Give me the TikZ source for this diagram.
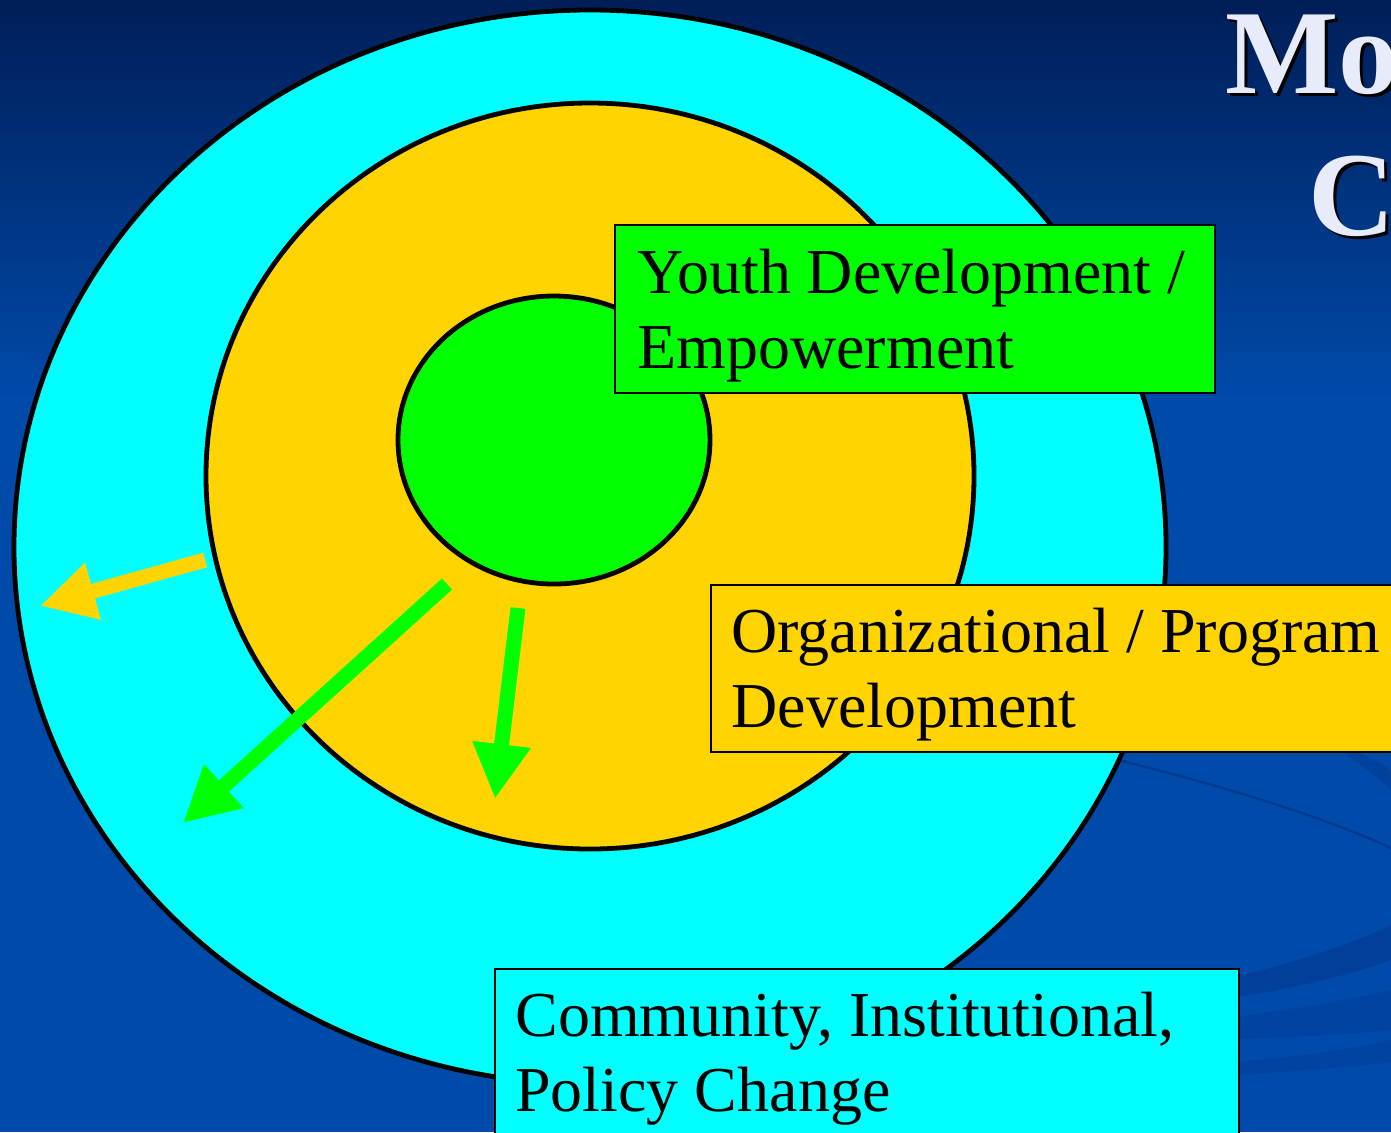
\documentclass[tikz,border=0pt]{standalone}
\usepackage{fontspec}
\setmainfont{Liberation Serif}
\usetikzlibrary{arrows.meta,calc}

\definecolor{bgtop}{RGB}{0,30,88}
\definecolor{bgblue}{RGB}{0,74,170}
\definecolor{swoosh}{RGB}{0,58,145}
\definecolor{ringcyan}{RGB}{0,255,255}
\definecolor{ringyellow}{RGB}{255,212,0}
\definecolor{ringgreen}{RGB}{0,255,0}
\definecolor{titlewhite}{RGB}{232,236,250}

\tikzset{
  ring/.style={draw=black, line width=2.4pt},
  labelbox/.style={draw=black, line width=1pt, anchor=north west, inner sep=0pt},
  labeltext/.style={anchor=north west, inner sep=0pt, align=left,
    font=\fontsize{32}{37.5}\selectfont},
  titlefont/.style={anchor=base west, inner sep=0pt,
    font=\fontsize{60}{71}\selectfont\bfseries},
  push/.style={line width=7.5pt, -{Triangle[length=27.5pt,width=27.5pt]}},
}

\begin{document}
\begin{tikzpicture}[x=0.5pt,y=-0.5pt]
\useasboundingbox (0,0) rectangle (1391,1132);
\clip (0,0) rectangle (1391,1132);

% background
\fill[bgblue] (0,0) rectangle (1391,1132);
\shade[top color=bgtop, bottom color=bgblue] (0,0) rectangle (1391,400);
\draw[swoosh, line width=1.2pt] (1110,758) .. controls (1240,790) and (1330,820) .. (1391,848);
\fill[swoosh, opacity=0.5] (1330,742) .. controls (1360,752) and (1380,762) .. (1391,770) -- (1391,790) .. controls (1375,775) and (1355,760) .. (1330,742) -- cycle;
\fill[swoosh, opacity=0.6] (1200,985) .. controls (1290,965) and (1350,945) .. (1391,925) -- (1391,960) .. controls (1340,978) and (1280,992) .. (1200,1002) -- cycle;
\fill[swoosh, opacity=0.4] (1200,1022) .. controls (1290,1010) and (1350,1000) .. (1391,990) -- (1391,1030) .. controls (1340,1035) and (1280,1038) .. (1200,1040) -- cycle;
\fill[swoosh, opacity=0.4] (1200,1065) .. controls (1290,1058) and (1350,1050) .. (1391,1040) -- (1391,1062) .. controls (1340,1068) and (1280,1072) .. (1200,1078) -- cycle;

% rings
\filldraw[ring, fill=ringcyan] (590,547) ellipse [x radius=576, y radius=537];
\filldraw[ring, fill=ringyellow] (590,476) ellipse [x radius=384, y radius=373];
\filldraw[ring, fill=ringgreen] (554,440) ellipse [x radius=156, y radius=144];

% arrows
\coordinate (orgtail) at (205,560);
\coordinate (orghead) at (40,606);
\coordinate (youthtail) at (447,584);
\coordinate (youthhead) at (183,823);
\coordinate (progtail) at (518,608);
\coordinate (proghead) at (495,799);
\draw[push, ringyellow] (orgtail) -- (orghead);
\draw[push, ringgreen] (youthtail) -- (youthhead);
\draw[push, ringgreen] (progtail) -- (proghead);

% labels
\node[labelbox, fill=ringgreen, minimum width=300pt, minimum height=84pt] (youthbox) at (614,224) {};
\node[labeltext] (youthtext) at ($(youthbox.north west)+(23,21)$) {\rule{0pt}{24pt}Youth Development /\\Empowerment};

\node[labelbox, fill=ringyellow, minimum width=360pt, minimum height=83.5pt] (orgbox) at (710,584) {};
\node[labeltext] (orgtext) at ($(orgbox.north west)+(21,20)$) {\rule{0pt}{24pt}Organizational / Program\\Development};

\node[labelbox, fill=ringcyan, minimum width=372pt, minimum height=100pt] (commbox) at (494,968) {};
\node[labeltext] (commtext) at ($(commbox.north west)+(21,20)$) {\rule{0pt}{24pt}Community, Institutional,\\Policy Change};

% title
\node[titlefont, text=black] (moshadow) at (1228,96) {Mo};
\node[titlefont, text=titlewhite] (motitle) at (1225,93) {Mo};
\node[titlefont, text=black] (chshadow) at (1311,238) {Ch};
\node[titlefont, text=titlewhite] (chtitle) at (1308,235) {Ch};
\end{tikzpicture}
\end{document}
